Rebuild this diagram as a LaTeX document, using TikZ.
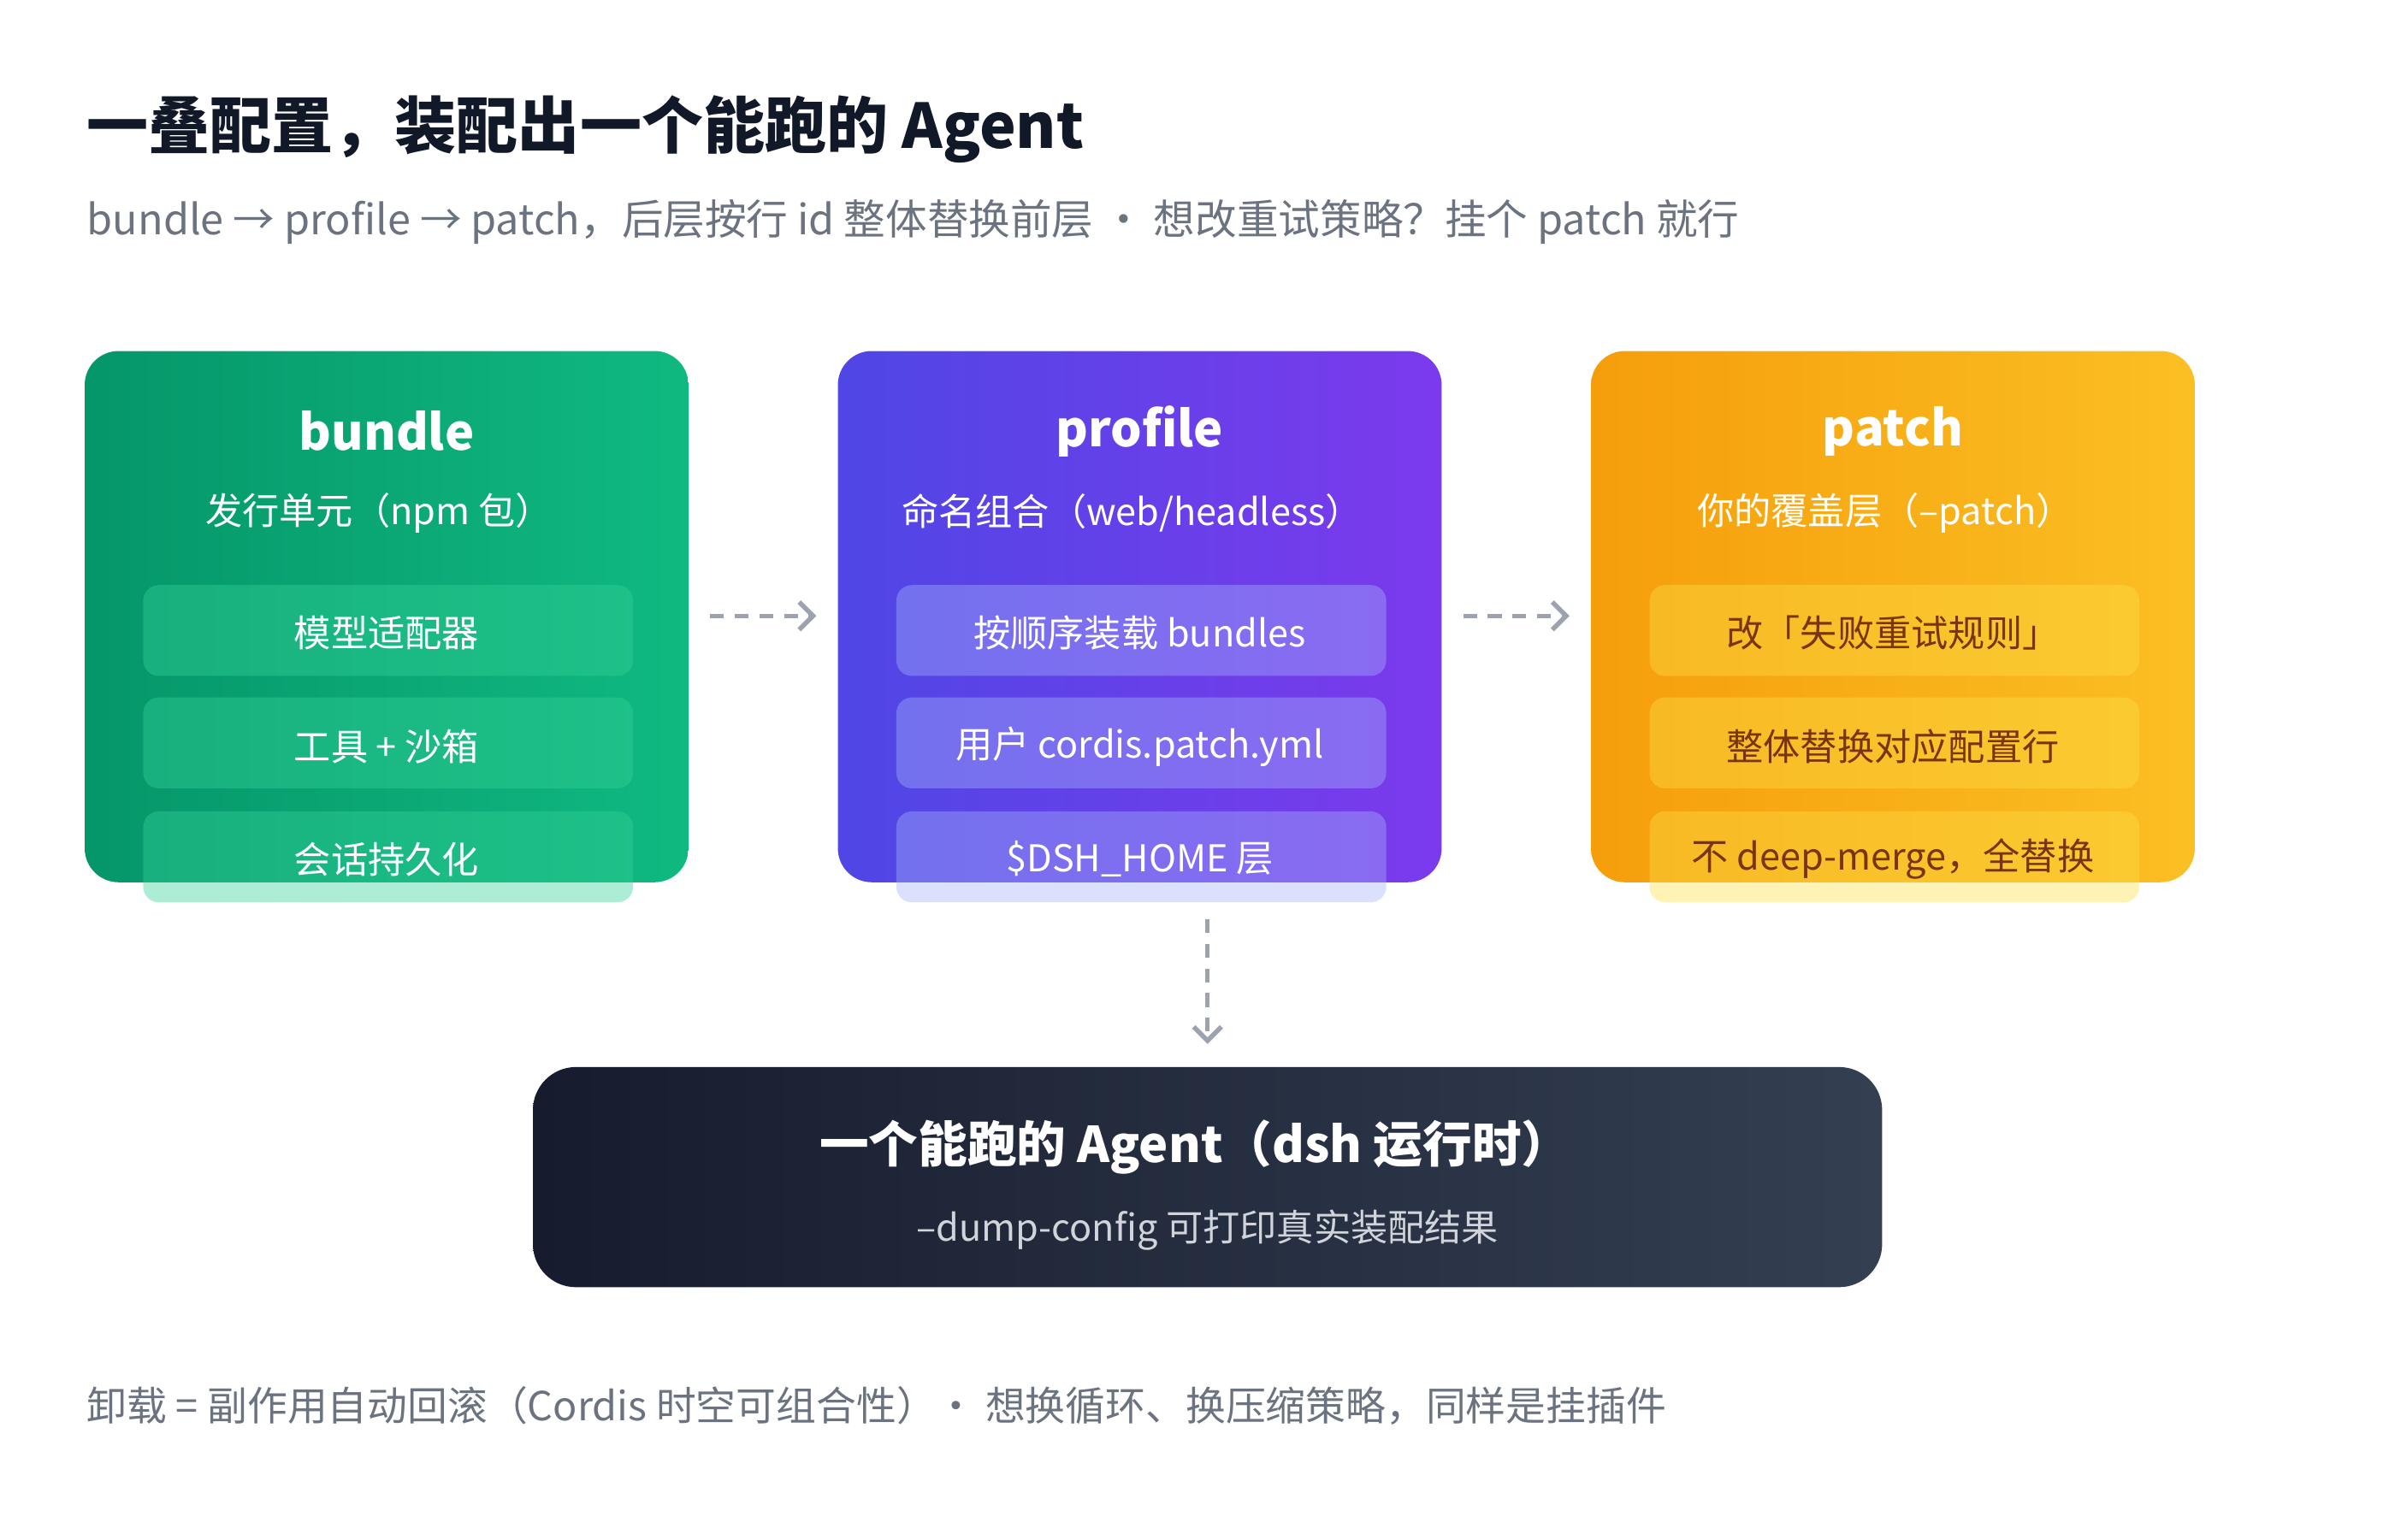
\documentclass[tikz,border=0pt]{standalone}
\usepackage{fontspec}
\setmainfont{Noto Sans CJK SC}
\usetikzlibrary{arrows.meta}
\definecolor{tgray}{HTML}{6B7280}
\definecolor{dgray}{HTML}{9CA3AF}
\definecolor{ink}{HTML}{111827}
\definecolor{g1}{HTML}{059669}\definecolor{g2}{HTML}{10B981}\definecolor{gi}{HTML}{34D399}
\definecolor{v1}{HTML}{4F46E5}\definecolor{v2}{HTML}{7C3AED}\definecolor{vi}{HTML}{A5B4FC}
\definecolor{o1}{HTML}{F59E0B}\definecolor{o2}{HTML}{FBBF24}\definecolor{oi}{HTML}{FDE047}
\definecolor{k1}{HTML}{161C2D}\definecolor{k2}{HTML}{343F52}
\definecolor{brown}{HTML}{78350F}\definecolor{lg}{HTML}{D1D5DB}
\begin{document}
\begin{tikzpicture}[x=1pt,y=-1pt,
 box/.style={rounded corners=22pt},
 item/.style={rounded corners=10pt, fill opacity=0.4, draw=none},
 itxt/.style={text=white, font=\fontsize{24}{28}\selectfont},
 head/.style={text=white, font=\bfseries\fontsize{32}{36}\selectfont},
 sub/.style={text=white, font=\fontsize{24}{28}\selectfont},
 conn/.style={draw=dgray, line width=3pt, dash pattern=on 9pt off 7pt, -{Straight Barb[length=9pt,width=18pt,line width=3pt]}}]
\useasboundingbox (0,0) rectangle (1555,1000);
\fill[white] (0,0) rectangle (1555,1000);
\node[anchor=west, text=ink, font=\bfseries\fontsize{40}{46}\selectfont] (title) at (53,84) {一叠配置，装配出一个能跑的 Agent};
\node[anchor=west, text=tgray, font=\fontsize{27}{32}\selectfont] (subt) at (53,144) {bundle → profile → patch，后层按行 id 整体替换前层 · 想改重试策略？挂个 patch 就行};
\shade[box, left color=g1, right color=g2] (55,228) rectangle (447,573);
\shade[box, left color=v1, right color=v2] (544,228) rectangle (936,573);
\shade[box, left color=o1, right color=o2] (1033,228) rectangle (1425,573);
\node[head] (h1) at (251,280) {bundle};
\node[sub] (s1) at (246,333) {发行单元（npm 包）};
\node[head] (h2) at (740,280) {profile};
\node[sub] (s2) at (735,333) {命名组合（web/headless）};
\node[head] (h3) at (1229,280) {patch};
\node[sub] (s3) at (1224,333) {你的覆盖层（--patch）};
\foreach \x/\c in {93/gi, 582/vi, 1071/oi}{
 \foreach \y in {380,453,527}{
  \fill[item, fill=\c] (\x,\y) rectangle ++(318,59);
 }}
\node[itxt] (b1) at (251,411) {模型适配器};
\node[itxt] (b2) at (251,485) {工具 + 沙箱};
\node[itxt] (b3) at (251,558) {会话持久化};
\node[itxt] (p1) at (740,411) {按顺序装载 bundles};
\node[itxt] (p2) at (740,485) {用户 cordis.patch.yml};
\node[itxt] (p3) at (740,558) {\$DSH\_HOME 层};
\node[itxt, text=brown] (q1) at (1229,411) {改「失败重试规则」};
\node[itxt, text=brown] (q2) at (1229,485) {整体替换对应配置行};
\node[itxt, text=brown] (q3) at (1229,558) {不 deep-merge，全替换};
\coordinate (a1s) at (461,400); \coordinate (a1e) at (530,400);
\coordinate (a2s) at (950,400); \coordinate (a2e) at (1019,400);
\coordinate (a3s) at (784,597); \coordinate (a3e) at (784,678);
\draw[conn] (a1s) -- (a1e);
\draw[conn] (a2s) -- (a2e);
\draw[conn] (a3s) -- (a3e);
\shade[rounded corners=28pt, left color=k1, right color=k2] (346,693) rectangle (1222,836);
\node[head] (r1) at (776,745) {一个能跑的 Agent（dsh 运行时）};
\node[sub, text=lg] (r2) at (784,799) {--dump-config 可打印真实装配结果};
\node[anchor=west, text=tgray, font=\fontsize{26}{30}\selectfont] (foot) at (53,913) {卸载 = 副作用自动回滚（Cordis 时空可组合性）· 想换循环、换压缩策略，同样是挂插件};
\end{tikzpicture}
\end{document}
